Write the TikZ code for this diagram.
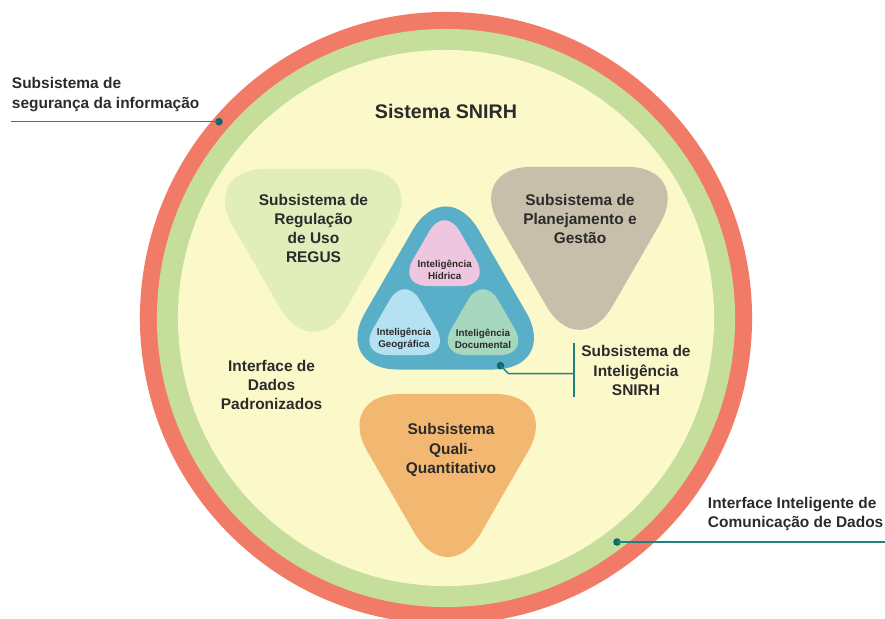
\documentclass[tikz,border=0pt]{standalone}
\usepackage{fontspec}
\setmainfont{Liberation Sans}
\usetikzlibrary{shapes.geometric}

\definecolor{ringred}{HTML}{F27B68}
\definecolor{ringgreen}{HTML}{C5DE9C}
\definecolor{inside}{HTML}{FBF8CA}
\definecolor{regusgreen}{HTML}{E2EDBC}
\definecolor{plangray}{HTML}{C8BFAA}
\definecolor{qualiorange}{HTML}{F2B872}
\definecolor{intblue}{HTML}{5AAFC8}
\definecolor{hidpink}{HTML}{EFC6DF}
\definecolor{geoblue}{HTML}{B5E1F2}
\definecolor{docmint}{HTML}{A8D7C0}
\definecolor{linkteal}{HTML}{1F8282}
\definecolor{dotteal}{HTML}{0E6A6A}
\definecolor{textgray}{HTML}{2B2B2B}

\begin{document}
\begin{tikzpicture}[x=0.025cm, y=-0.025cm,
    tri/.style = {regular polygon, regular polygon sides=3, inner sep=0pt, minimum size=6.55cm, rounded corners=1.65cm},
    downtri/.style = {tri, shape border rotate=180},
    smalltri/.style = {regular polygon, regular polygon sides=3, inner sep=0pt, minimum size=2.7cm, rounded corners=0.75cm},
    txt/.style = {align=center, text=textgray, font=\fontsize{11}{13.6}\selectfont\bfseries},
    tinytxt/.style = {align=center, text=textgray, font=\fontsize{7}{8.5}\selectfont\bfseries},
    link/.style = {draw=linkteal, line width=1.1pt},
    dot/.style = {circle, fill=dotteal, inner sep=0pt, minimum size=0.19cm}]

    \clip (0,0) rectangle (885,618);

    % rings
    \fill[ringred] (446,318) circle [radius=7.65cm];
    \fill[ringgreen] (446,318) circle [radius=7.225cm];
    \fill[inside] (446,318) circle [radius=6.7cm];

    \node[txt, font=\fontsize{14}{16}\selectfont\bfseries] (sistema) at (446,111) {Sistema SNIRH};

    % subsistemas
    \node[downtri, fill=regusgreen] (regus) at (313.3,234.3) {};
    \node[downtri, fill=plangray] (plan) at (579.4,232.3) {};
    \node[downtri, fill=qualiorange] (quali) at (447.7,459.5) {};
    \node[tri, fill=intblue] (intel) at (445.7,304) {};
    \node[smalltri, fill=hidpink] (hidrica) at (444.5,259) {};
    \node[smalltri, fill=geoblue] (geo) at (404.7,328) {};
    \node[smalltri, fill=docmint] (doc) at (483,328) {};

    \node[txt] (regustxt) at (313.5,228.5) {Subsistema de\\Regulação\\de Uso\\REGUS};
    \node[txt] (plantxt) at (580,219) {Subsistema de\\Planejamento e\\Gestão};
    \node[txt] (qualitxt) at (451,450) {Subsistema\\Quali-\\Quantitativo};
    \node[tinytxt] (hidtxt) at (444.7,269.5) {Inteligência\\Hídrica};
    \node[tinytxt] (geotxt) at (404,339) {Inteligência\\Geográfica};
    \node[tinytxt] (doctxt) at (483,339) {Inteligência\\Documental};
    \node[txt] (padrao) at (271.6,385) {Interface de\\Dados\\Padronizados};

    % labels
    \node[txt, align=left, anchor=west] (seguranca) at (7,94.5) {Subsistema de\\segurança da informação};
    \node[txt, align=left, anchor=west] (comunic) at (703,514) {Interface Inteligente de\\Comunicação de Dados};
    \node[txt] (inteltxt) at (636,370.5) {Subsistema de\\Inteligência\\SNIRH};

    \node[dot] (segdot) at (219,121.7) {};
    \node[dot] (comdot) at (617,542) {};
    \node[dot] (intdot) at (500.5,365.6) {};
    \coordinate (segend) at (11,121.7);
    \coordinate (comend) at (885,542);
    \coordinate (bartop) at (574,343);
    \coordinate (barbot) at (574,397);
    \coordinate (barmid) at (574,373.6);

    \draw[link] (segend) -- (segdot.center);
    \draw[link] (comdot.center) -- (comend);
    \draw[link] (intdot.center) -- ++(8,8) -- (barmid);
    \draw[link] (bartop) -- (barbot);
\end{tikzpicture}
\end{document}
